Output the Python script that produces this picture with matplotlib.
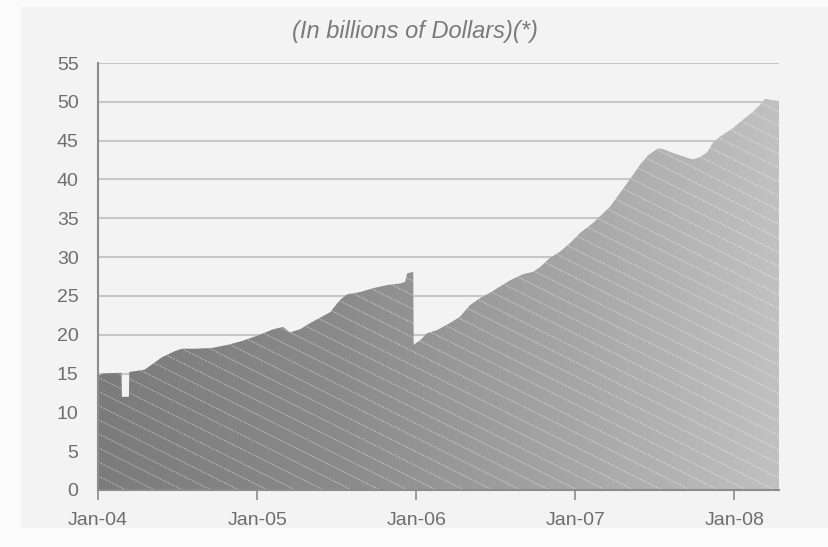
import numpy as np
import matplotlib.pyplot as plt
import matplotlib.dates as mdates
from matplotlib.colors import LinearSegmentedColormap
from matplotlib.patches import Rectangle

# outstanding balance, in billions of dollars
dates = ['2004-01-01', '2004-01-12', '2004-02-24', '2004-02-25', '2004-03-12',
         '2004-03-13', '2004-04-17', '2004-05-27', '2004-06-26', '2004-07-12',
         '2004-08-11', '2004-09-19', '2004-10-25', '2004-11-27', '2005-01-02',
         '2005-02-06', '2005-03-01', '2005-03-17', '2005-04-09', '2005-05-02',
         '2005-05-25', '2005-06-17', '2005-07-10', '2005-07-26', '2005-08-25',
         '2005-09-24', '2005-10-26', '2005-11-25', '2005-12-06', '2005-12-11',
         '2005-12-25', '2005-12-26', '2006-01-10', '2006-01-26', '2006-02-18',
         '2006-03-19', '2006-04-11', '2006-05-04', '2006-05-27', '2006-06-19',
         '2006-07-12', '2006-08-04', '2006-09-03', '2006-09-26', '2006-10-12',
         '2006-11-04', '2006-11-27', '2006-12-20', '2007-01-12', '2007-02-11',
         '2007-03-22', '2007-04-30', '2007-05-30', '2007-06-17', '2007-07-10',
         '2007-07-22', '2007-08-14', '2007-09-15', '2007-09-29', '2007-10-15',
         '2007-10-31', '2007-11-13', '2007-11-29', '2007-12-29', '2008-01-21',
         '2008-02-13', '2008-02-29', '2008-03-12', '2008-03-30', '2008-04-13']
values = [14.7, 15.0, 15.1, 12.0, 12.0,
          15.2, 15.5, 17.1, 17.9, 18.2,
          18.2, 18.3, 18.7, 19.2, 19.9,
          20.7, 21.0, 20.3, 20.7, 21.5,
          22.2, 22.9, 24.5, 25.2, 25.5,
          26.0, 26.4, 26.6, 26.8, 27.9,
          28.1, 18.7, 19.3, 20.2, 20.6,
          21.5, 22.3, 23.8, 24.7, 25.4,
          26.2, 27.0, 27.8, 28.1, 28.7,
          29.9, 30.7, 31.8, 33.1, 34.4,
          36.5, 39.5, 41.9, 43.1, 44.0,
          43.9, 43.4, 42.8, 42.6, 42.9,
          43.5, 44.7, 45.5, 46.6, 47.7,
          48.7, 49.6, 50.4, 50.2, 50.1]
year_ticks = ['2004-01-01', '2005-01-01', '2006-01-01', '2007-01-01', '2008-01-01']

plt.rcParams['font.family'] = ['Liberation Sans', 'DejaVu Sans']

fig = plt.figure(figsize=(8.29, 5.47), dpi=100)
fig.patch.set_facecolor('#fbfbfb')
fig.patches.append(Rectangle((21 / 829, 20 / 547), 1, 520 / 547,
                             transform=fig.transFigure, color='#f3f3f3', zorder=-10))

ax = fig.add_axes([98 / 829, 57 / 547, 681 / 829, 427 / 547])
ax.set_zorder(1)
ax.set_facecolor('none')

x = mdates.date2num(np.array(dates, dtype='datetime64[D]'))
x0, x1 = x[0], x[-1]

area = ax.fill_between(x, values, 0, facecolor='none', lw=0)
clip = area.get_paths()[0]

# grey gradient, darker on the left
cmap = LinearSegmentedColormap.from_list(
    'greys', [(0, '#7b7b7b'), (0.35, '#8a8a8a'), (0.7, '#a6a6a6'), (1, '#c1c1c1')])
grad = np.linspace(0, 1, 256).reshape(1, -1)
im = ax.imshow(grad, extent=[x0, x1, 0, 55], aspect='auto', cmap=cmap,
               interpolation='bilinear', zorder=1)
im.set_clip_path(clip, ax.transData)

# thin diagonal hatch
for c in np.arange(0, 1.85, 0.033):
    ln, = ax.plot([0, 1], [c, c - 0.797], transform=ax.transAxes,
                  color='white', alpha=0.45, lw=0.8, ls=(0, (1.5, 1.2)), zorder=2)
    ln.set_clip_path(clip, ax.transData)

ax.set_xlim(x0, x1)
ax.set_ylim(0, 55)
ax.set_yticks(range(0, 56, 5))
ax.set_xticks(mdates.date2num(np.array(year_ticks, dtype='datetime64[D]')))
ax.xaxis.set_major_formatter(mdates.DateFormatter('%b-%y'))

ax.yaxis.grid(True, color='#c6c6c6', lw=1.5)
ax.set_axisbelow(True)

for s in ['top', 'right']:
    ax.spines[s].set_visible(False)
for s in ['left', 'bottom']:
    ax.spines[s].set_color('#8c8c8c')
    ax.spines[s].set_linewidth(1.5)
    ax.spines[s].set_zorder(3)

ax.tick_params(axis='y', length=0, pad=14, labelsize=14, labelcolor='#6e6e6e')
ax.tick_params(axis='x', length=7, width=1.2, color='#8c8c8c', pad=9,
               labelsize=14, labelcolor='#6e6e6e')

fig.text(0.5006, 0.9415, '(In billions of Dollars)(*)', ha='center', va='center',
         style='italic', fontsize=17, color='#7a7a7a')

plt.savefig('out.png', dpi=100, facecolor=fig.get_facecolor())
